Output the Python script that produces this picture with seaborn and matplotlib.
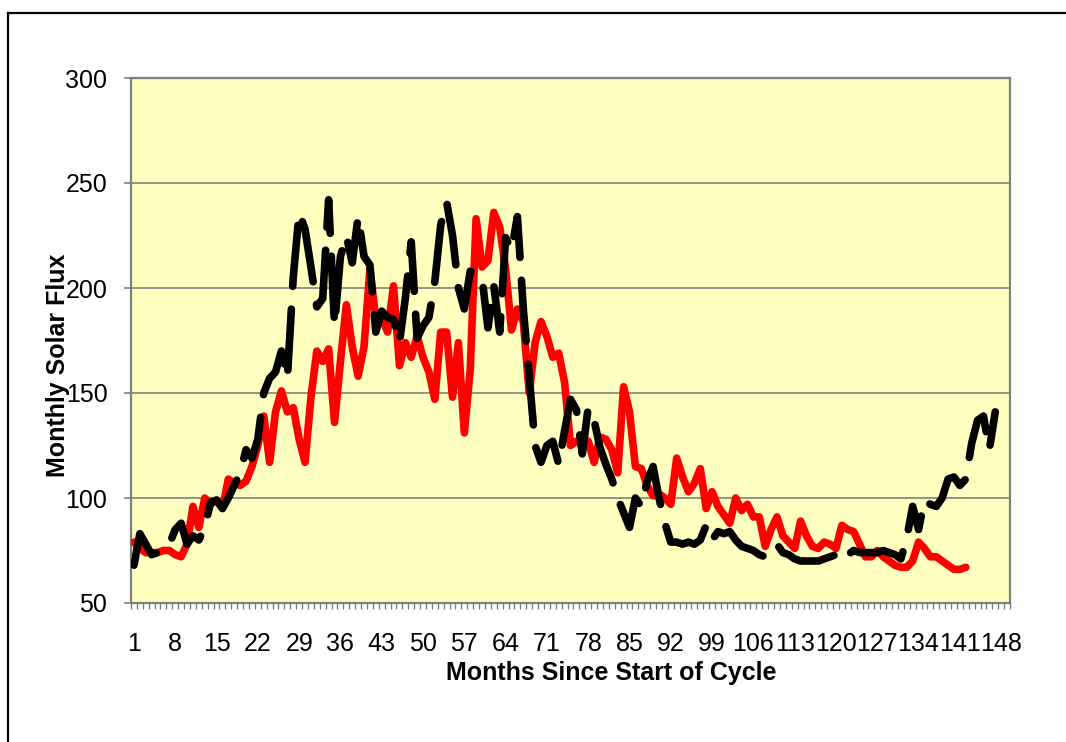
import numpy as np
import pandas as pd
import matplotlib
matplotlib.use("Agg")
import matplotlib.pyplot as plt
from matplotlib.lines import Line2D
import seaborn as sns

# ---- data ----
n_categories = 149
tick_labels = [str(v) for v in range(1, 149, 7)]

red_flux = [79, 76, 74, 74, 74, 75, 75, 73, 72, 78,
            96, 86, 100, 97, 99, 95, 109, 107, 106, 108,
            115, 125, 139, 117, 141, 151, 141, 143, 128, 117,
            148, 170, 165, 171, 136, 165, 192, 172, 158, 172,
            209, 185, 186, 179, 201, 163, 174, 167, 177, 167,
            160, 147, 179, 179, 148, 174, 131, 161, 233, 210,
            213, 236, 229, 209, 180, 190, 184, 150, 174, 184,
            177, 167, 169, 155, 125, 127, 128, 127, 117, 129,
            128, 123, 112, 153, 141, 115, 114, 106, 101, 102,
            100, 97, 119, 110, 103, 107, 114, 95, 103, 96,
            92, 88, 100, 94, 97, 91, 91, 77, 85, 91,
            82, 79, 76, 89, 82, 77, 76, 79, 78, 76,
            87, 85, 84, 78, 72, 72, 75, 72, 70, 68,
            67, 67, 70, 79, 76, 72, 72, 70, 68, 66,
            66, 67]

black_flux = [68, 83, 78, 73, 74, 75, 78, 85, 88, 78,
              82, 80, 86, 98, 99, 95, 100, 106, 112, 123,
              119, 128, 150, 157, 160, 170, 157, 205, 236, 228,
              210, 191, 195, 242, 182, 215, 225, 212, 234, 215,
              211, 179, 189, 186, 185, 174, 195, 222, 176, 182,
              186, 203, 230, 241, 225, 200, 190, 208, 207, 205,
              181, 201, 179, 224, 218, 234, 190, 158, 125, 117,
              125, 127, 116, 132, 147, 142, 121, 143, 137, 124,
              116, 109, 100, 93, 86, 100, 96, 108, 115, 100,
              88, 79, 79, 78, 79, 78, 80, 87, 80, 84,
              83, 84, 80, 77, 76, 75, 73, 72, 75, 78,
              74, 73, 71, 70, 70, 70, 70, 71, 72, 73,
              70, 73, 75, 74, 74, 74, 74, 75, 74, 73,
              71, 81, 96, 85, 99, 97, 96, 100, 109, 110,
              106, 109, 126, 137, 139, 123, 141]

months_red = np.arange(1, len(red_flux) + 1)
months_black = np.arange(1, len(black_flux) + 1)

W, H = 1066, 742
fig = plt.figure(figsize=(W / 100, H / 100), dpi=100)
fig.patch.set_facecolor("white")

L, R, T, B = 131, 1010, 78, 603
ax = fig.add_axes([L / W, 1 - B / H, (R - L) / W, (B - T) / H])
ax.set_facecolor("#FFFFC0")

sns.lineplot(x=months_red, y=red_flux, ax=ax, color="#FF0000", linewidth=5.5,
             solid_capstyle="round", solid_joinstyle="round", zorder=3)
sns.lineplot(x=months_black, y=black_flux, ax=ax, color="black", linewidth=5.5,
             zorder=4)
bl = ax.get_lines()[-1]
bl.set_dashes((8, 3))
bl.set_dash_capstyle("round")
bl.set_dash_joinstyle("round")

ax.set_xlim(0.5, n_categories + 0.5)
ax.set_ylim(50, 300)

font = "Liberation Sans"
ax.set_yticks(np.arange(50, 301, 50))
ax.set_yticklabels([str(v) for v in range(50, 301, 50)], fontsize=18, family=font)
ax.tick_params(axis="y", direction="out", length=5, width=1.2, color="#808080", pad=12)

ax.set_xticks(np.arange(1, 149, 7))
ax.set_xticklabels(tick_labels, fontsize=18, family=font)
ax.tick_params(axis="x", which="major", length=0, pad=21)
ax.set_xticks(np.arange(0.5, n_categories + 1, 1.0), minor=True)
ax.tick_params(axis="x", which="minor", direction="out", length=4.5, width=1.0, color="#808080")

ax.grid(False)
for y in range(100, 300, 50):
    ax.axhline(y, color="#808080", linewidth=1.2, zorder=1)
ax.axhline(300, color="#808080", linewidth=1.5, zorder=1)
for s in ax.spines.values():
    s.set_color("#808080")
    s.set_linewidth(1.6)

ax.set_xlabel("")
ax.set_ylabel("")
fig.text(611 / W, 1 - 673 / H, "Months Since Start of Cycle", ha="center", va="center",
         fontsize=18, fontweight="bold", family=font)
fig.text(58 / W, 1 - 365 / H, "Monthly Solar Flux", ha="center", va="center",
         rotation=90, fontsize=18, fontweight="bold", family=font)

# outer chart-area frame
fx, fy = 8 / W, 1 - 13 / H
fig.add_artist(Line2D([fx, fx], [0, fy], transform=fig.transFigure, color="black", linewidth=1.6))
fig.add_artist(Line2D([fx, 1], [fy, fy], transform=fig.transFigure, color="black", linewidth=1.6))

fig.savefig("out.png", dpi=100)
